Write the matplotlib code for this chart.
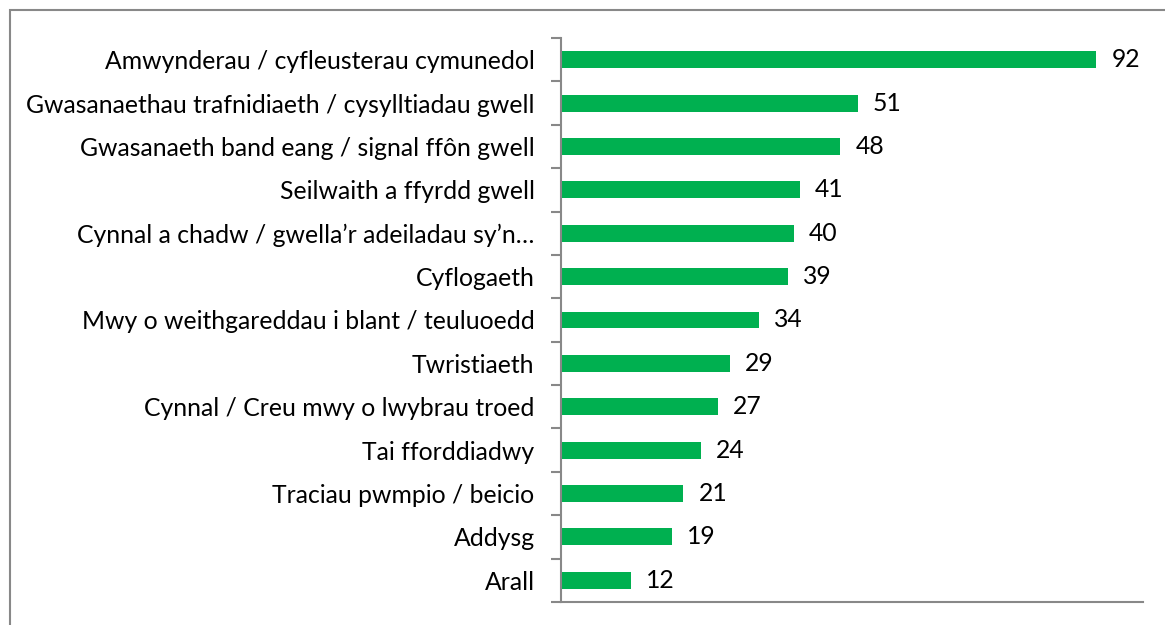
import matplotlib
matplotlib.use('Agg')
import matplotlib.pyplot as plt
from matplotlib.patches import Rectangle
import numpy as np

categories = [
    "Amwynderau / cyfleusterau cymunedol",
    "Gwasanaethau trafnidiaeth / cysylltiadau gwell",
    "Gwasanaeth band eang / signal ffôn gwell",
    "Seilwaith a ffyrdd gwell",
    "Cynnal a chadw / gwella’r adeiladau sy’n…",
    "Cyflogaeth",
    "Mwy o weithgareddau i blant / teuluoedd",
    "Twristiaeth",
    "Cynnal / Creu mwy o lwybrau troed",
    "Tai fforddiadwy",
    "Traciau pwmpio / beicio",
    "Addysg",
    "Arall",
]
values = [92, 51, 48, 41, 40, 39, 34, 29, 27, 24, 21, 19, 12]

plt.rcParams['font.family'] = ['Lato', 'DejaVu Sans']

fig = plt.figure(figsize=(11.65, 6.25), dpi=100)
ax = fig.add_axes([0.4815, 0.0368, 0.4995, 0.9024])

y = np.arange(len(categories))
ax.barh(y, values, height=0.39, color='#00B050')
ax.set_ylim(len(categories) - 0.5, -0.5)
ax.set_xlim(0, 100)

for yi, v in zip(y, values):
    ax.annotate(str(v), (v, yi), xytext=(11, 0), textcoords='offset points',
                va='center', ha='left', fontsize=17.8, color='#000000')

ax.set_yticks(y)
ax.set_yticklabels(categories, fontsize=17.8)
ax.tick_params(axis='y', which='major', length=0, pad=19)
ax.set_yticks(np.arange(-0.5, len(categories)), minor=True)
ax.tick_params(axis='y', which='minor', length=7, width=1.5, color='#888888')
ax.set_xticks([])

for s in ['top', 'right']:
    ax.spines[s].set_visible(False)
for s in ['left', 'bottom']:
    ax.spines[s].set_color('#888888')
    ax.spines[s].set_linewidth(1.5)

# outer chart frame
fig.patches.append(Rectangle((10 / 1165, -0.1), 1.2, 1 - 10 / 625 + 0.1,
                             transform=fig.transFigure, fill=False,
                             edgecolor='#888888', linewidth=1.5))

fig.savefig('out.png', dpi=100)
